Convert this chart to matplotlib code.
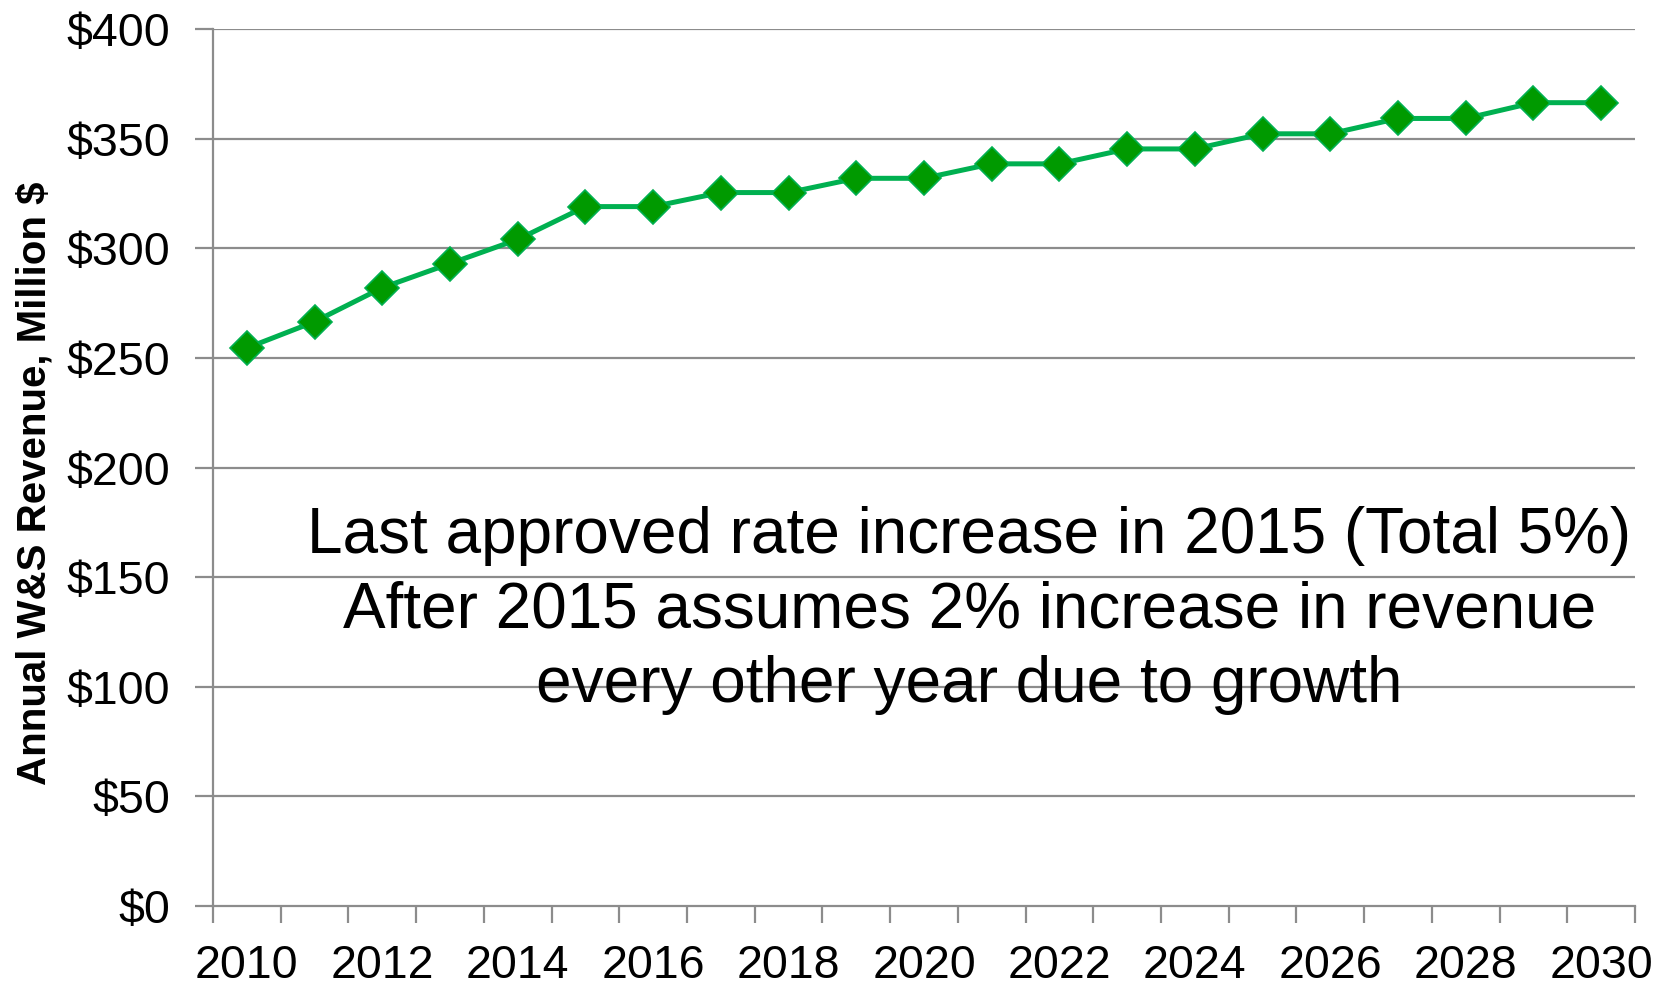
import matplotlib
matplotlib.use("Agg")
import matplotlib.pyplot as plt
import numpy as np

years = list(range(2010, 2031))
revenue = [254.5, 266.5, 282, 293, 304, 319, 319, 325.4, 325.4, 331.9, 331.9,
           338.5, 338.5, 345.3, 345.3, 352.2, 352.2, 359.2, 359.2, 366.4, 366.4]
y_ticks = [0, 50, 100, 150, 200, 250, 300, 350, 400]
y_labels = ["$0", "$50", "$100", "$150", "$200", "$250", "$300", "$350", "$400"]
x_label_years = list(range(2010, 2031, 2))
note = ("Last approved rate increase in 2015 (Total 5%)\n"
        "After 2015 assumes 2% increase in revenue\n"
        "every other year due to growth")
ylabel = "Annual W&S Revenue, Million $"

plt.rcParams['font.family'] = ['Liberation Sans', 'DejaVu Sans']

fig = plt.figure(figsize=(16.69, 9.85), dpi=100)
ax = fig.add_axes([213/1669, 79/985, (1635-213)/1669, (906-29)/985])

x = np.arange(len(years))
grid_c = "#8C8C8C"
for yv in y_ticks[1:]:
    ax.axhline(yv, color=grid_c, lw=1.6, zorder=1)

ax.plot(x, revenue, color="#00B050", lw=3.6, marker="D", ms=17.5,
        markerfacecolor="#009A00", markeredgecolor="#00B050", markeredgewidth=1.2,
        zorder=3)

ax.set_xlim(-0.5, len(years) - 0.5)
ax.set_ylim(0, 400)

bounds = np.arange(-0.5, len(years), 1.0)
ax.set_xticks(bounds)
ax.set_xticklabels([])
ax.tick_params(axis='x', which='major', length=12, width=1.6, color=grid_c)
centers = [years.index(yr) for yr in x_label_years]
ax.set_xticks(centers, [str(yr) for yr in x_label_years], minor=True)
ax.tick_params(axis='x', which='minor', length=0, pad=27, labelsize=33.5)

ax.set_yticks(y_ticks, y_labels)
ax.tick_params(axis='y', length=13, width=1.6, color=grid_c, pad=18, labelsize=33.5)

for s in ["top", "right"]:
    ax.spines[s].set_visible(False)
for s in ["left", "bottom"]:
    ax.spines[s].set_color(grid_c)
    ax.spines[s].set_linewidth(1.6)

ax.text(0.532, 0.337, note, transform=ax.transAxes, ha="center", va="center",
        multialignment="center", fontsize=46, linespacing=1.3, zorder=4)

fig.text(35/1669, 1 - 483/985, ylabel, rotation=90, ha="center", va="center",
         fontsize=29, fontweight="bold")

fig.savefig("out.png", dpi=100, facecolor="white")
